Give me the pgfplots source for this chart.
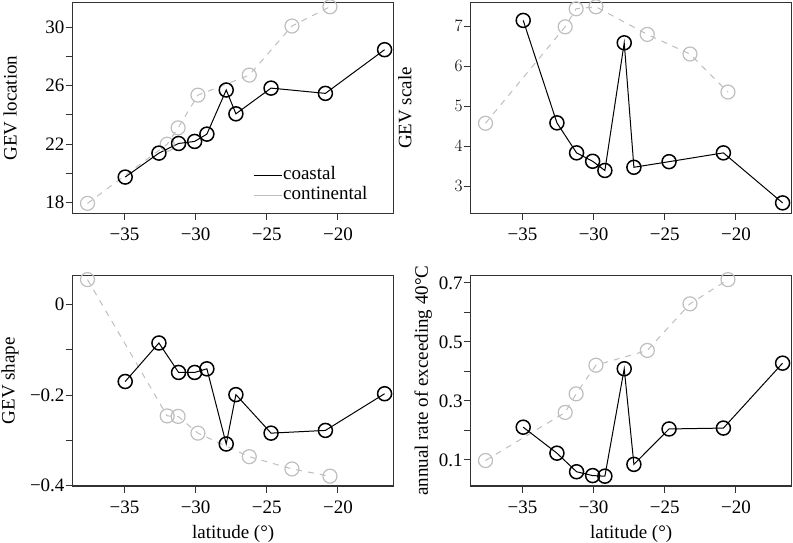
\documentclass[border=0pt]{standalone}
\usepackage{fontspec}
\setmainfont{Liberation Serif}
\usepackage{pgfplots}
\pgfplotsset{compat=1.18}
\usepackage{pgfplotstable}

\definecolor{rgrey}{RGB}{190,190,190}
\definecolor{boxcol}{RGB}{50,50,50}

% coastal stations: latitude, location, scale, shape, rate
\pgfplotstableread{
lat     loc    scl   shp     rate
-34.95  19.75  7.14  -0.170  0.211
-32.58  21.39  4.58  -0.085  0.123
-31.20  22.05  3.83  -0.150  0.060
-30.07  22.19  3.62  -0.150  0.047
-29.21  22.69  3.39  -0.142  0.045
-27.85  25.71  6.58  -0.308  0.409
-27.17  24.08  3.47  -0.199  0.085
-24.70  25.84  3.61  -0.284  0.205
-20.88  25.48  3.83  -0.278  0.208
-16.72  28.47  2.58  -0.197  0.428
}\coastal

% continental stations
\pgfplotstableread{
lat     loc    scl   shp     rate
-37.60  17.95  4.57   0.055  0.098
-32.00  22.00  6.98  -0.246  0.261
-31.23  23.12  7.43  -0.247  0.324
-29.84  25.36  7.48  -0.284  0.421
-26.23  26.73  6.79  -0.336  0.471
-23.23  30.09  6.30  -0.363  0.629
-20.56  31.41  5.35  -0.379  0.711
}\continental

\pgfplotsset{
  panel/.style={
    scale only axis, width=321pt, height=210.5pt,
    xmin=-38.64, xmax=-16.08,
    xtick={-35,-30,-25,-20}, xticklabels={−35,−30,−25,−20},
    xtick pos=lower, ytick pos=left,
    tick align=outside, major tick length=7pt,
    axis line style={line width=1.2pt, boxcol},
    tick style={line width=1pt, boxcol},
    ticklabel style={font=\fontsize{19}{21}\selectfont},
    label style={font=\fontsize{19}{21}\selectfont},
    yticklabel style={inner sep=1pt},
    xticklabel style={yshift=-4pt},
    ylabel style={at={(axis description cs:-0.195,0.5)}, anchor=center, rotate=0},
    xlabel style={at={(axis description cs:0.5,-0.228)}, anchor=center},
    clip=false,
  },
  cont/.style={rgrey, line width=1pt, dash pattern=on 6pt off 6pt,
    mark=o, mark size=7pt, mark options={solid, line width=1.2pt, fill=white}},
  coast/.style={black, line width=1pt,
    mark=o, mark size=7pt, mark options={line width=1.5pt, fill=white}},
}

\begin{document}
\begin{tikzpicture}

% top left: location
\begin{axis}[panel, at={(72.7pt,328.7pt)}, anchor=south west,
    ymin=17.27, ymax=31.68,
    ytick={18,20,...,30}, yticklabels={18,,22,,26,,30},
    ylabel={GEV location},
    legend style={draw=none, fill=none, at={(axis description cs:0.552,0.238)},
      anchor=north west, font=\fontsize{19}{21}\selectfont,
      nodes={inner sep=1pt, text height=13pt, text depth=5pt}, row sep=0pt},
    legend cell align=left,
    legend image code/.code={\draw[#1] (0pt,0pt) -- (28pt,0pt);}]
\addplot[cont, forget plot] table[x=lat, y=loc] {\continental};
\addplot[coast, forget plot] table[x=lat, y=loc] {\coastal};
\addlegendimage{black, line width=1pt}
\addlegendimage{rgrey, line width=1pt}
\legend{coastal, continental}
\end{axis}

% top right: scale
\begin{axis}[panel, at={(470.7pt,328.7pt)}, anchor=south west,
    ymin=2.32, ymax=7.58,
    ytick={3,4,5,6,7},
    ylabel={GEV scale},
    ylabel style={at={(axis description cs:-0.205,0.5)}}]
\addplot[cont] table[x=lat, y=scl] {\continental};
\addplot[coast] table[x=lat, y=scl] {\coastal};
\end{axis}

% bottom left: shape
\begin{axis}[panel, at={(72.7pt,56pt)}, anchor=south west,
    ymin=-0.4007, ymax=0.064,
    ytick={-0.4,-0.3,-0.2,-0.1,0}, yticklabels={−0.4,,−0.2,,0},
    ylabel={GEV shape}, xlabel={latitude (°)}]
\addplot[cont] table[x=lat, y=shp] {\continental};
\addplot[coast] table[x=lat, y=shp] {\coastal};
\end{axis}

% bottom right: rate of exceeding 40 C
\begin{axis}[panel, at={(470.7pt,56pt)}, anchor=south west,
    ymin=0.0117, ymax=0.725,
    ytick={0.1,0.2,...,0.7}, yticklabels={0.1,,0.3,,0.5,,0.7},
    ylabel={annual rate of exceeding 40°C},
    ylabel style={at={(axis description cs:-0.148,0.5)}},
    xlabel={latitude (°)}]
\addplot[cont] table[x=lat, y=rate] {\continental};
\addplot[coast] table[x=lat, y=rate] {\coastal};
\end{axis}

\pgfresetboundingbox
\path[use as bounding box] (0,0) rectangle (793pt,542pt);
\end{tikzpicture}
\end{document}
